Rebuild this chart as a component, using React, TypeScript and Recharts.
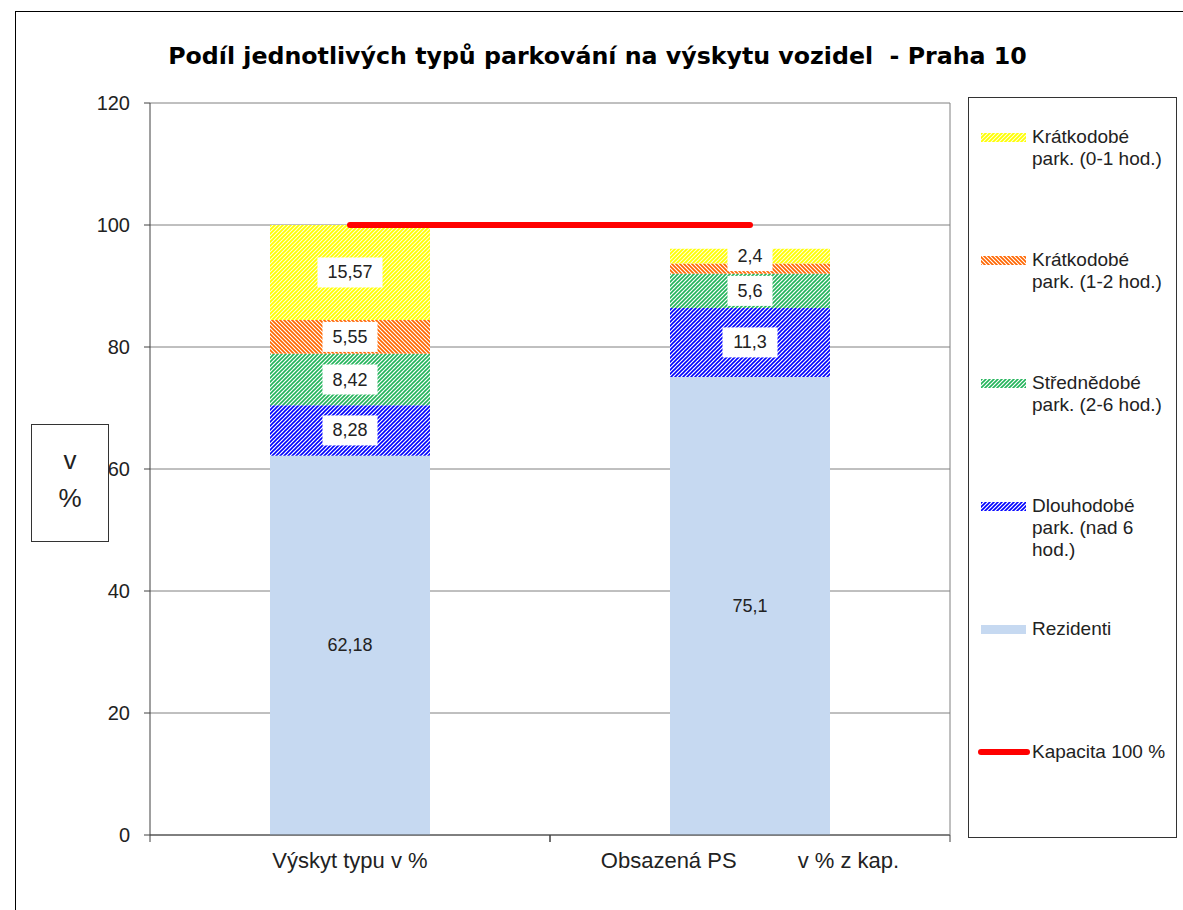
import React from 'react';
import { ComposedChart, Bar, Line, XAxis, YAxis, CartesianGrid, LabelList } from 'recharts';

const categories = ['Výskyt typu v %', 'Obsazená PS          v % z kap.'];
const rezidenti = [62.18, 75.1];
const dlouhodobe = [8.28, 11.3];
const strednedobe = [8.42, 5.6];
const kratko12 = [5.55, 1.7];
const kratko01 = [15.57, 2.4];
const kapacita = [100, 100];
const yTicks = [0, 20, 40, 60, 80, 100, 120];

const data = categories.map((name, i) => ({
  name,
  rezidenti: rezidenti[i],
  dlouhodobe: dlouhodobe[i],
  strednedobe: strednedobe[i],
  kratko12: kratko12[i],
  kratko01: kratko01[i],
  kapacita: kapacita[i],
}));

const FONT = "'Liberation Sans', Arial, sans-serif";
const PLOT_BOTTOM = 835;

// legend rows
const legendItems = [
  { fill: 'url(#hatchYellow)', lines: ['Krátkodobé', 'park. (0-1 hod.)'] },
  { fill: 'url(#hatchOrange)', lines: ['Krátkodobé', 'park. (1-2 hod.)'] },
  { fill: 'url(#hatchGreen)', lines: ['Střednědobé', 'park. (2-6 hod.)'] },
  { fill: 'url(#hatchBlue)', lines: ['Dlouhodobé', 'park. (nad 6', 'hod.)'] },
  { fill: '#C6D9F1', lines: ['Rezidenti'] },
  { fill: 'line', lines: ['Kapacita 100 %'] },
];

const fmt = (v: number) => String(v).replace('.', ',');
const textW = (s: string, fs: number) =>
  s.split('').reduce((w, c) => w + (c === ',' ? 0.278 : 0.556) * fs, 0);

const BoxLabel = (props: any) => {
  const { x, y, width, height, value } = props;
  if (value == null || value < 2) return null;
  const txt = fmt(value);
  const cx = x + width / 2;
  const cy = y + height / 2;
  const w = textW(txt, 18) + 20;
  return (
    <g>
      <rect x={cx - w / 2} y={cy - 15} width={w} height={30} fill="#fff" />
      <text x={cx} y={cy} textAnchor="middle" dominantBaseline="central" fontSize={18} fontFamily={FONT} fill="#222">
        {txt}
      </text>
    </g>
  );
};

const PlainLabel = (props: any) => {
  const { x, y, width, height, value } = props;
  return (
    <text x={x + width / 2} y={y + height / 2} textAnchor="middle" dominantBaseline="central" fontSize={18} fontFamily={FONT} fill="#222">
      {fmt(value)}
    </text>
  );
};

const CatTick = (props: any) => {
  const { x, payload } = props;
  const off = payload.offset || 200;
  return (
    <g>
      <line x1={x - off} x2={x - off} y1={PLOT_BOTTOM} y2={PLOT_BOTTOM + 7} stroke="#404040" />
      <line x1={x + off} x2={x + off} y1={PLOT_BOTTOM} y2={PLOT_BOTTOM + 7} stroke="#404040" />
      <text x={x} y={860} textAnchor="middle" dominantBaseline="central" fontSize={22} fontFamily={FONT} fill="#222" style={{ whiteSpace: 'pre' }}>
        {payload.value}
      </text>
    </g>
  );
};

const Patterns = () => (
  <svg width={0} height={0} style={{ position: 'absolute' }}>
    <defs>
      <pattern id="hatchYellow" width={4} height={4} patternUnits="userSpaceOnUse">
        <rect width={4} height={4} fill="#ffffe0" />
        <path d="M-1,1 l2,-2 M0,4 l4,-4 M3,5 l2,-2" stroke="#FFFF00" strokeWidth={1.8} />
      </pattern>
      <pattern id="hatchOrange" width={4} height={4} patternUnits="userSpaceOnUse">
        <rect width={4} height={4} fill="#fff" />
        <path d="M-1,3 l2,2 M0,0 l4,4 M3,-1 l2,2" stroke="#FF6600" strokeWidth={1.7} />
      </pattern>
      <pattern id="hatchGreen" width={4} height={4} patternUnits="userSpaceOnUse">
        <rect width={4} height={4} fill="#fff" />
        <path d="M-1,1 l2,-2 M0,4 l4,-4 M3,5 l2,-2" stroke="#22B45A" strokeWidth={1.6} />
      </pattern>
      <pattern id="hatchBlue" width={4} height={4} patternUnits="userSpaceOnUse">
        <rect width={4} height={4} fill="#fff" />
        <path d="M-1,1 l2,-2 M0,4 l4,-4 M3,5 l2,-2" stroke="#0000FF" strokeWidth={1.6} />
      </pattern>
    </defs>
  </svg>
);

const LegendBox = () => (
  <div style={{ position: 'absolute', left: 968, top: 97, width: 209, height: 741, border: '1px solid #333', boxSizing: 'border-box', fontFamily: FONT, fontSize: 19, color: '#222' }}>
    {legendItems.map((it, i) => (
      <div key={i} style={{ position: 'absolute', left: 0, top: 28 + i * 123, width: 206 }}>
        <svg width={60} height={22} style={{ position: 'absolute', left: 8, top: 0 }}>
          {it.fill === 'line' ? (
            <line x1={4} x2={50} y1={11} y2={11} stroke="#FF0000" strokeWidth={6} strokeLinecap="round" />
          ) : (
            <rect x={4} y={7} width={45} height={9} fill={it.fill} />
          )}
        </svg>
        <div style={{ position: 'absolute', left: 63, top: 0, lineHeight: '22px', whiteSpace: 'nowrap' }}>
          {it.lines.map((l, j) => (
            <div key={j}>{l}</div>
          ))}
        </div>
      </div>
    ))}
  </div>
);

export default function App() {
  return (
    <div style={{ position: 'absolute', left: 0, top: 0, width: 1183, height: 910, overflow: 'hidden', background: '#fff' }}>
      <Patterns />
      <div style={{ position: 'absolute', left: 15, top: 11, width: 1300, height: 1000, border: '1px solid #000' }} />
      <div style={{ position: 'absolute', left: 0, top: 42, width: 1195, textAlign: 'center', fontFamily: "'DejaVu Sans', sans-serif", fontWeight: 'bold', fontSize: 23.7, color: '#000', whiteSpace: 'pre' }}>
        {'Podíl jednotlivých typů parkování na výskytu vozidel  - Praha 10'}
      </div>
      <ComposedChart
        width={1183}
        height={910}
        data={data}
        margin={{ top: 103, right: 232, bottom: 35, left: 90 }}
        style={{ position: 'absolute', left: 0, top: 0 }}
      >
        <CartesianGrid vertical={false} stroke="#808080" />
        <XAxis dataKey="name" height={40} axisLine={{ stroke: '#404040' }} tickLine={false} tick={<CatTick />} interval={0} />
        <YAxis
          domain={[0, 120]}
          ticks={yTicks}
          width={60}
          axisLine={{ stroke: '#404040' }}
          tickLine={{ stroke: '#404040' }}
          tickSize={6}
          tickMargin={14}
          tick={{ fontSize: 20, fontFamily: FONT, fill: '#222' }}
        />
        <YAxis yAxisId="r" orientation="right" domain={[0, 120]} width={1} tick={false} tickLine={false} axisLine={{ stroke: '#808080' }} />
        <Bar dataKey="rezidenti" stackId="a" fill="#C6D9F1" barSize={160} isAnimationActive={false}>
          <LabelList dataKey="rezidenti" content={<PlainLabel />} />
        </Bar>
        <Bar dataKey="dlouhodobe" stackId="a" fill="url(#hatchBlue)" barSize={160} isAnimationActive={false}>
          <LabelList dataKey="dlouhodobe" content={<BoxLabel />} />
        </Bar>
        <Bar dataKey="strednedobe" stackId="a" fill="url(#hatchGreen)" barSize={160} isAnimationActive={false}>
          <LabelList dataKey="strednedobe" content={<BoxLabel />} />
        </Bar>
        <Bar dataKey="kratko12" stackId="a" fill="url(#hatchOrange)" barSize={160} isAnimationActive={false}>
          <LabelList dataKey="kratko12" content={<BoxLabel />} />
        </Bar>
        <Bar dataKey="kratko01" stackId="a" fill="url(#hatchYellow)" barSize={160} isAnimationActive={false}>
          <LabelList dataKey="kratko01" content={<BoxLabel />} />
        </Bar>
        <Line dataKey="kapacita" stroke="#FF0000" strokeWidth={6} strokeLinecap="round" dot={false} activeDot={false} isAnimationActive={false} />
      </ComposedChart>
      <div style={{ position: 'absolute', left: 31, top: 424, width: 78, height: 118, border: '1px solid #333', boxSizing: 'border-box', fontFamily: FONT, fontSize: 26, color: '#222', textAlign: 'center', background: '#fff' }}>
        <div style={{ marginTop: 16, lineHeight: '38px' }}>v</div>
        <div style={{ lineHeight: '38px' }}>%</div>
      </div>
      <LegendBox />
    </div>
  );
}
